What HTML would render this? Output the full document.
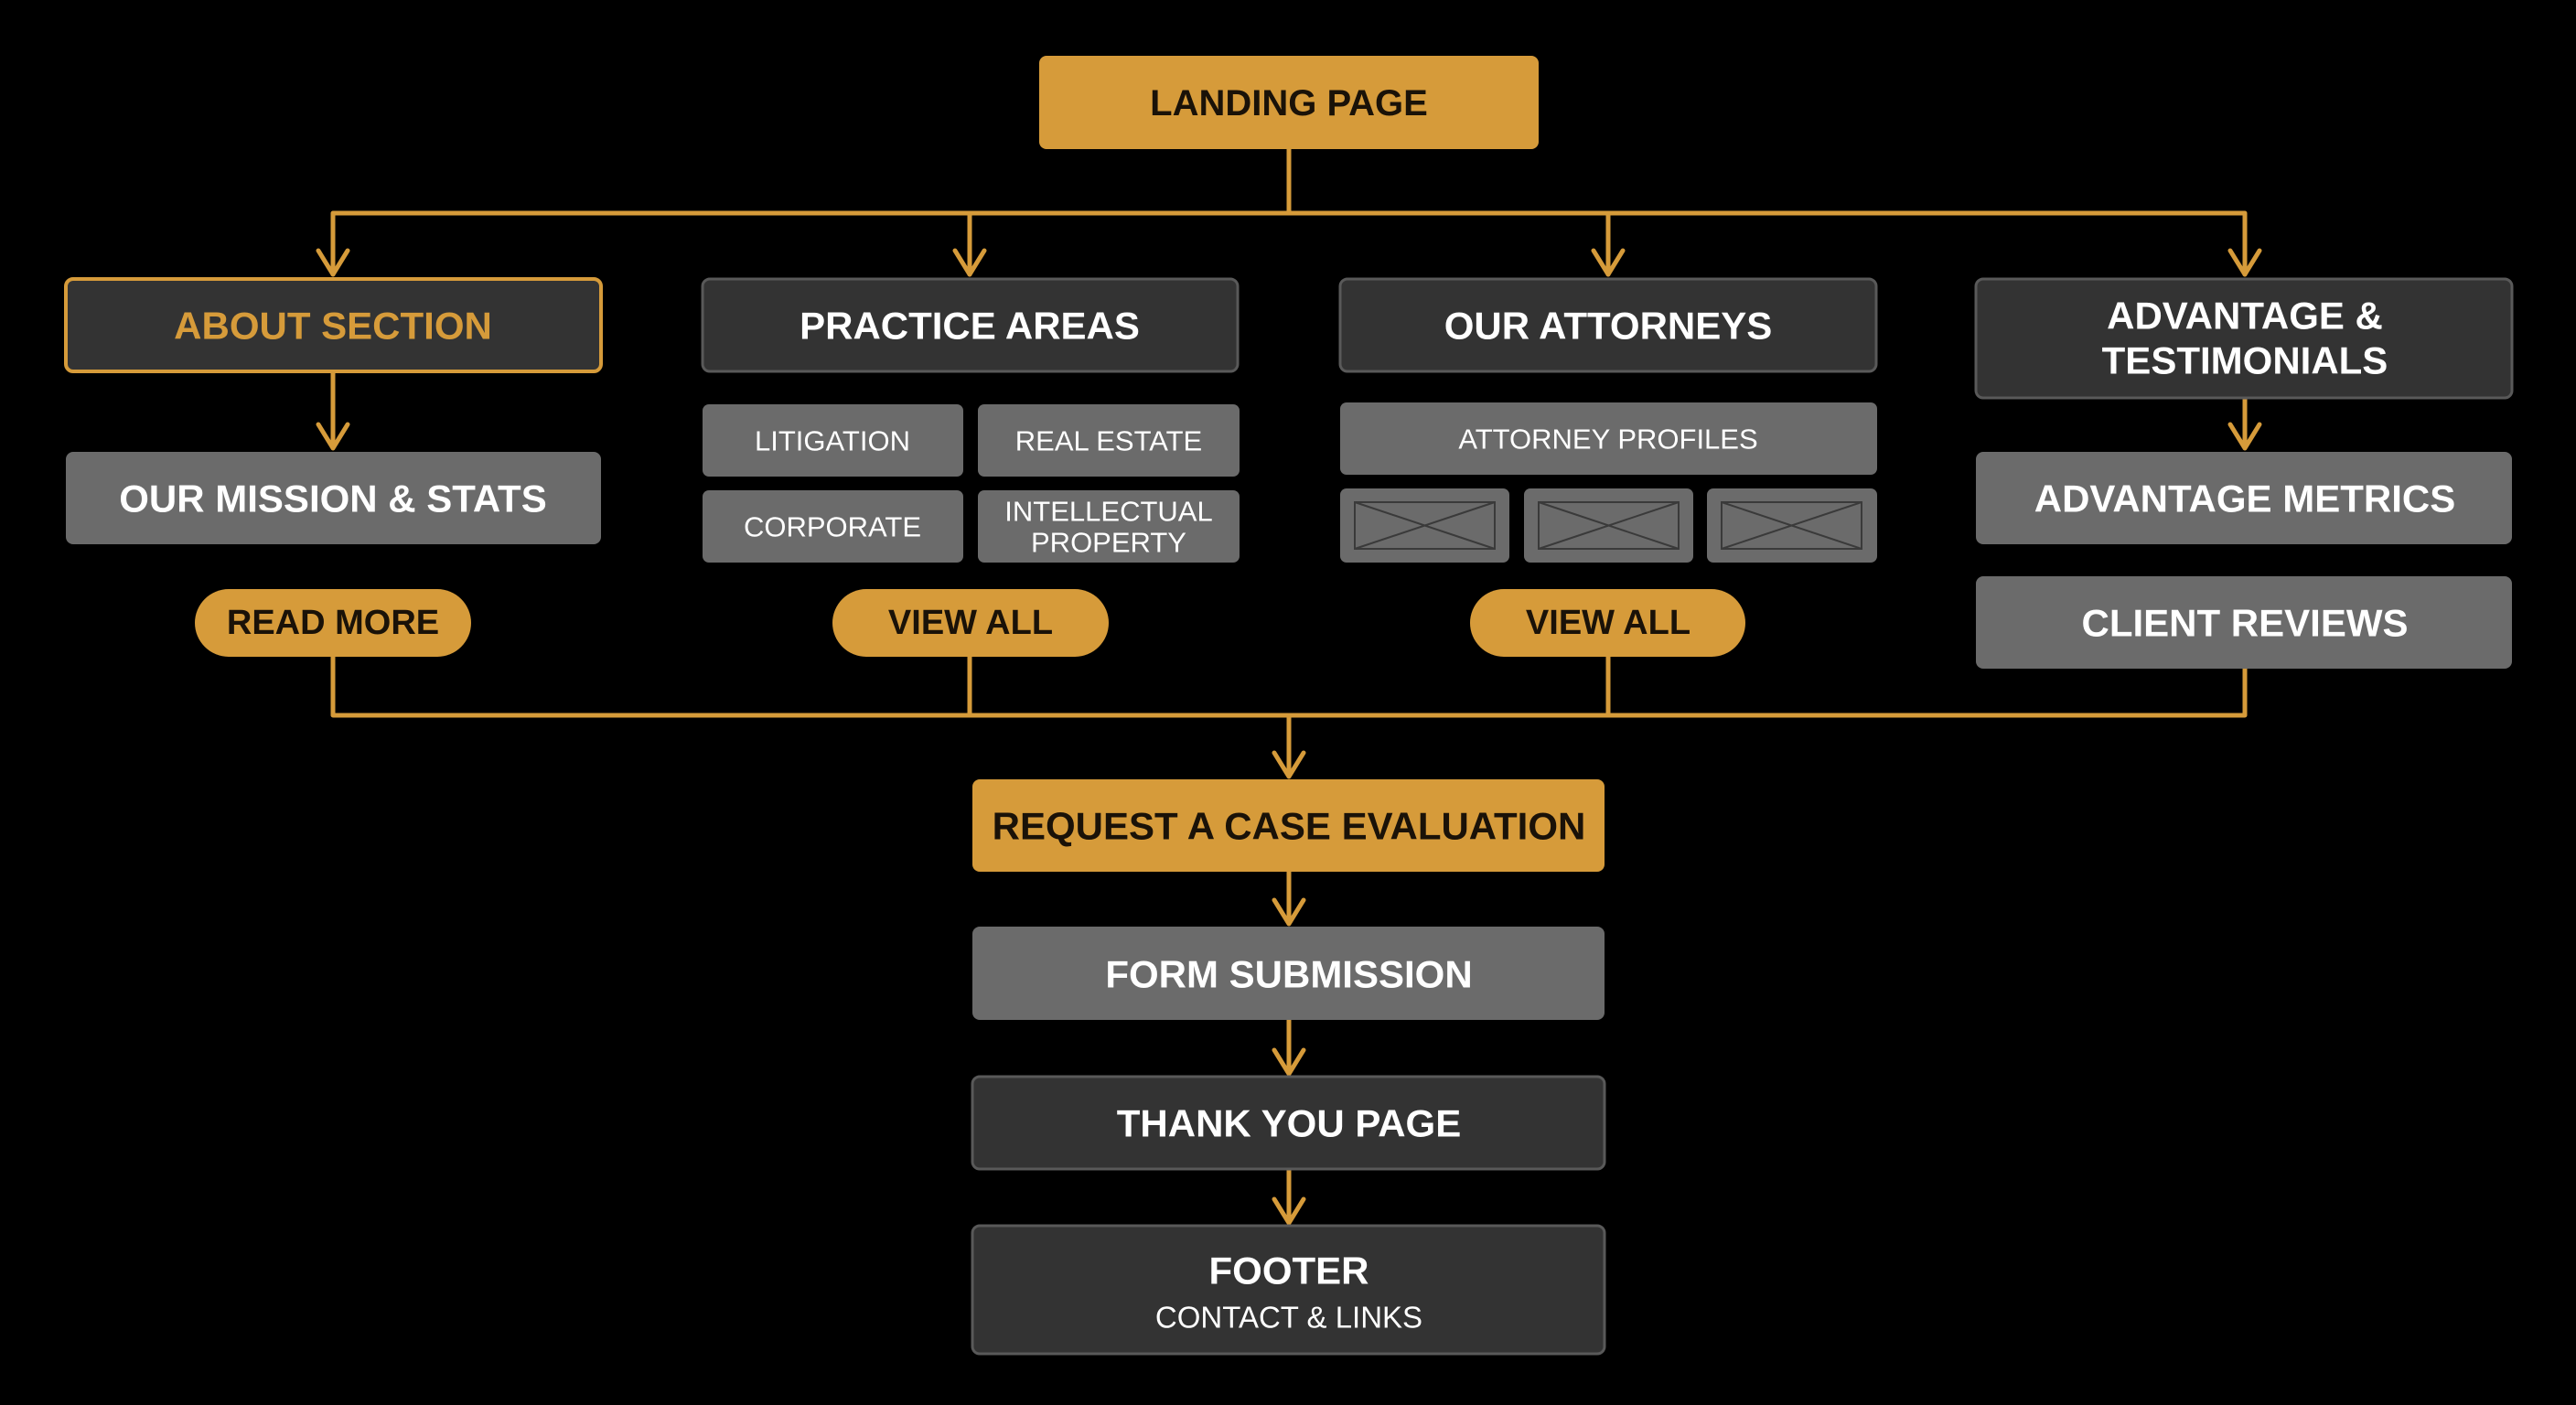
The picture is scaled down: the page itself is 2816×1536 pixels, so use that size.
<!DOCTYPE html>
<html><head><meta charset="utf-8"><style>
html,body{margin:0;padding:0;background:#000;}
svg{display:block}
text{font-family:"Liberation Sans","DejaVu Sans",sans-serif;text-anchor:middle;dominant-baseline:central}
.b{font-weight:700}
</style></head><body>
<svg width="2816" height="1536" viewBox="0 0 2816 1536" xmlns="http://www.w3.org/2000/svg">
<rect width="2816" height="1536" fill="#000"/>
<g stroke="#d69b3a" stroke-width="5" fill="none" stroke-linejoin="round" stroke-linecap="round">
<path d="M1409 163 V233 M364 233 H2454 M364 233 V300 M1060 233 V300 M1758 233 V300 M2454 233 V300"/>
<path d="M348 274 L364 300 L380 274 M1044 274 L1060 300 L1076 274 M1742 274 L1758 300 L1774 274 M2438 274 L2454 300 L2470 274"/>
<path d="M364 407 V490 M348 464 L364 490 L380 464"/>
<path d="M2454 436 V490 M2438 464 L2454 490 L2470 464"/>
<path d="M364 718 V782 M1060 718 V782 M1758 718 V782 M2454 731 V782 M364 782 H2454"/>
<path d="M1409 782 V849 M1393 823 L1409 849 L1425 823"/>
<path d="M1409 953 V1010 M1393 984 L1409 1010 L1425 984"/>
<path d="M1409 1115 V1174 M1393 1148 L1409 1174 L1425 1148"/>
<path d="M1409 1278 V1337 M1393 1311 L1409 1337 L1425 1311"/>
</g>
<!-- landing -->
<rect x="1136" y="61" width="546" height="102" rx="8" fill="#d69b3a"/>
<text x="1409" y="113" font-size="40" fill="#1a1208" class="b">LANDING PAGE</text>
<!-- top boxes -->
<rect x="72" y="305" width="585" height="101" rx="8" fill="#333" stroke="#d69b3a" stroke-width="4"/>
<text x="364" y="356" font-size="42" fill="#d69b3a" class="b">ABOUT SECTION</text>
<rect x="768" y="305" width="585" height="101" rx="8" fill="#333" stroke="#595959" stroke-width="3"/>
<text x="1060" y="356" font-size="42" fill="#fff" class="b">PRACTICE AREAS</text>
<rect x="1465" y="305" width="586" height="101" rx="8" fill="#333" stroke="#595959" stroke-width="3"/>
<text x="1758" y="356" font-size="42" fill="#fff" class="b">OUR ATTORNEYS</text>
<rect x="2160" y="305" width="586" height="130" rx="8" fill="#333" stroke="#595959" stroke-width="3"/>
<text x="2454" y="345" font-size="42" fill="#fff" class="b">ADVANTAGE &amp;</text>
<text x="2454" y="394" font-size="42" fill="#fff" class="b">TESTIMONIALS</text>
<!-- gray boxes -->
<rect x="72" y="494" width="585" height="101" rx="8" fill="#6b6b6b"/>
<text x="364" y="545" font-size="42" fill="#fff" class="b">OUR MISSION &amp; STATS</text>
<rect x="768" y="442" width="285" height="79" rx="7" fill="#6b6b6b"/>
<text x="910" y="482" font-size="31" fill="#fff">LITIGATION</text>
<rect x="1069" y="442" width="286" height="79" rx="7" fill="#6b6b6b"/>
<text x="1212" y="482" font-size="31" fill="#fff">REAL ESTATE</text>
<rect x="768" y="536" width="285" height="79" rx="7" fill="#6b6b6b"/>
<text x="910" y="576" font-size="31" fill="#fff">CORPORATE</text>
<rect x="1069" y="536" width="286" height="79" rx="7" fill="#6b6b6b"/>
<text x="1212" y="559" font-size="31" fill="#fff">INTELLECTUAL</text>
<text x="1212" y="593" font-size="31" fill="#fff">PROPERTY</text>
<rect x="1465" y="440" width="587" height="79" rx="7" fill="#6b6b6b"/>
<text x="1758" y="480" font-size="31" fill="#fff">ATTORNEY PROFILES</text>
<g fill="#6b6b6b">
<rect x="1465" y="534" width="185" height="81" rx="7"/>
<rect x="1666" y="534" width="185" height="81" rx="7"/>
<rect x="1866" y="534" width="186" height="81" rx="7"/>
</g>
<g stroke="#3a3a3a" stroke-width="2" fill="none">
<rect x="1481" y="549" width="153" height="51"/><path d="M1481 549 L1634 600 M1634 549 L1481 600"/>
<rect x="1682" y="549" width="153" height="51"/><path d="M1682 549 L1835 600 M1835 549 L1682 600"/>
<rect x="1882" y="549" width="153" height="51"/><path d="M1882 549 L2035 600 M2035 549 L1882 600"/>
</g>
<rect x="2160" y="494" width="586" height="101" rx="8" fill="#6b6b6b"/>
<text x="2454" y="545" font-size="42" fill="#fff" class="b">ADVANTAGE METRICS</text>
<rect x="2160" y="630" width="586" height="101" rx="8" fill="#6b6b6b"/>
<text x="2454" y="681" font-size="42" fill="#fff" class="b">CLIENT REVIEWS</text>
<!-- pills -->
<rect x="213" y="644" width="302" height="74" rx="37" fill="#d69b3a"/>
<text x="364" y="681" font-size="38" fill="#1a1208" class="b">READ MORE</text>
<rect x="910" y="644" width="302" height="74" rx="37" fill="#d69b3a"/>
<text x="1061" y="681" font-size="38" fill="#1a1208" class="b">VIEW ALL</text>
<rect x="1607" y="644" width="301" height="74" rx="37" fill="#d69b3a"/>
<text x="1758" y="681" font-size="38" fill="#1a1208" class="b">VIEW ALL</text>
<!-- lower chain -->
<rect x="1063" y="852" width="691" height="101" rx="8" fill="#d69b3a"/>
<text x="1409" y="903" font-size="42" fill="#1a1208" class="b">REQUEST A CASE EVALUATION</text>
<rect x="1063" y="1013" width="691" height="102" rx="8" fill="#6b6b6b"/>
<text x="1409" y="1065" font-size="42" fill="#fff" class="b">FORM SUBMISSION</text>
<rect x="1063" y="1177" width="691" height="101" rx="8" fill="#333" stroke="#595959" stroke-width="3"/>
<text x="1409" y="1228" font-size="42" fill="#fff" class="b">THANK YOU PAGE</text>
<rect x="1063" y="1340" width="691" height="140" rx="8" fill="#333" stroke="#595959" stroke-width="3"/>
<text x="1409" y="1389" font-size="42" fill="#fff" class="b">FOOTER</text>
<text x="1409" y="1440" font-size="33" fill="#fff">CONTACT &amp; LINKS</text>
</svg>
</body></html>
